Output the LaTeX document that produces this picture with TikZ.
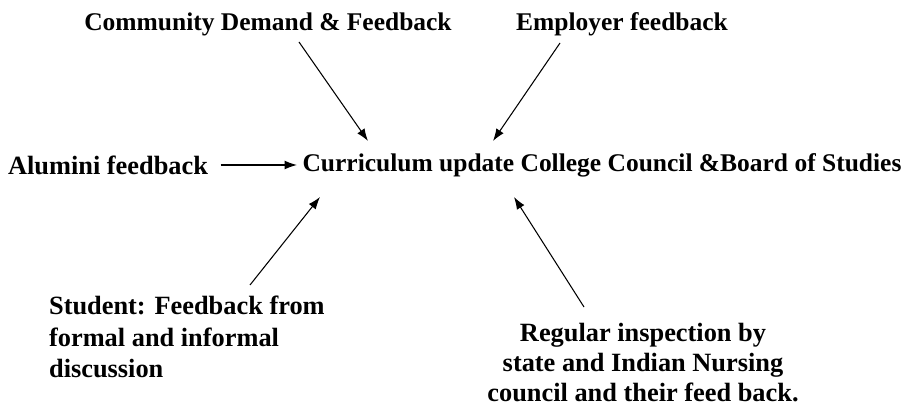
\documentclass[tikz,border=0pt]{standalone}
\usepackage{tikz, xcolor}
\usepackage{fontspec}
\setmainfont{Liberation Serif}
\usetikzlibrary{arrows.meta}

\begin{document}
\begin{tikzpicture}
\tikzstyle{source}=
[
    %Bold serif labels placed round the centre
    font=\fontsize{15}{18}\selectfont\bfseries,
    inner sep=1pt
    ]
\tikzstyle{upper}=
[
    %Labels along the top and the centre one
    source,
    font=\fontsize{14.5}{18}\selectfont\bfseries
    ]
\tikzstyle{flow}=
[
    %Thin lines with small filled heads
    -{Latex[length=7pt,width=5pt]},
    line width=0.6pt
    ]
\useasboundingbox (0,0) rectangle (18.22,8.2);
%Centre and the feedback sources
\node[upper] (centre) at (12.04,4.90) {Curriculum update College Council \&Board of Studies};
\node[upper] (community) at (5.36,7.72) {Community Demand \& Feedback};
\node[upper] (employer) at (12.44,7.72) {Employer feedback};
\node[source] (alumni) at (2.16,4.90) {Alumini feedback};
\node[source, align=left, anchor=north west] (student) at (0.94,2.32)
    {Student: Feedback from\\formal and informal\\discussion};
\node[source, font=\fontsize{15}{17}\selectfont\bfseries, align=center, anchor=north]
    (inspection) at (12.86,1.78)
    {Regular inspection by\\state and Indian Nursing\\council and their feed back.};
%Arrows into the centre
\draw[flow] ([shift={(0.62,-0.36)}]community.center) -- ([shift={(-4.68,0.48)}]centre.center);
\draw[flow] ([shift={(-1.24,-0.38)}]employer.center) -- ([shift={(-2.18,0.48)}]centre.center);
\draw[flow, shorten <=6pt, shorten >=2pt] (alumni.east) -- (centre.west);
\draw[flow] ([shift={(4.06,0.18)}]student.north west) -- ([shift={(-5.64,-0.64)}]centre.center);
\draw[flow] ([shift={(-1.18,0.28)}]inspection.north) -- ([shift={(-1.76,-0.64)}]centre.center);
\end{tikzpicture}
\end{document}
